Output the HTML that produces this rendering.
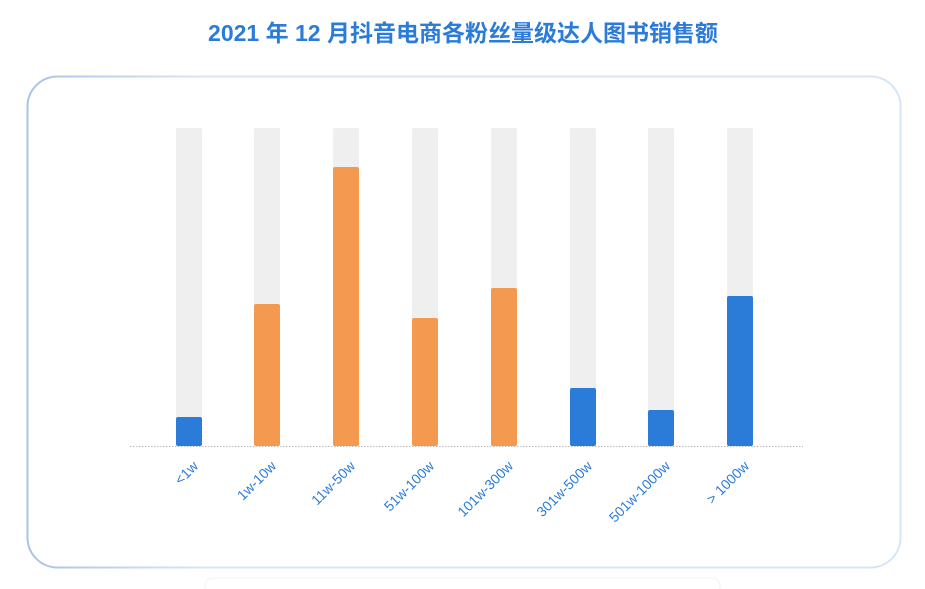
<!DOCTYPE html>
<html><head><meta charset="utf-8"><style>
html,body{margin:0;padding:0;background:#fff;width:925px;height:589px;overflow:hidden}
</style></head><body>
<svg width="925" height="589" viewBox="0 0 925 589" xmlns="http://www.w3.org/2000/svg">
<defs><linearGradient id="bd" x1="0" y1="0" x2="1" y2="0"><stop offset="0" stop-color="#a9c2e6"/><stop offset="0.2" stop-color="#d6e6f7"/><stop offset="1" stop-color="#d6e6f7"/></linearGradient></defs>
<text x="463" y="41" text-anchor="middle" font-family="Liberation Sans, Noto Sans CJK SC, sans-serif" font-size="23" font-weight="bold" fill="#2b7cd9">2021 年 12 月抖音电商各粉丝量级达人图书销售额</text>
<rect x="27.5" y="76.5" width="873" height="491" rx="30" fill="#fff" stroke="url(#bd)" stroke-width="2"/>
<rect x="205" y="578" width="515" height="20" rx="8" fill="#fff" stroke="#f3f3f3"/>
<g>
<rect x="176" y="128" width="26" height="318" rx="2" fill="#efefef"/>
<rect x="254" y="128" width="26" height="318" rx="2" fill="#efefef"/>
<rect x="333" y="128" width="26" height="318" rx="2" fill="#efefef"/>
<rect x="412" y="128" width="26" height="318" rx="2" fill="#efefef"/>
<rect x="491" y="128" width="26" height="318" rx="2" fill="#efefef"/>
<rect x="570" y="128" width="26" height="318" rx="2" fill="#efefef"/>
<rect x="648" y="128" width="26" height="318" rx="2" fill="#efefef"/>
<rect x="727" y="128" width="26" height="318" rx="2" fill="#efefef"/>
<rect x="176" y="417" width="26" height="29" rx="2" fill="#2b7cd9"/>
<rect x="254" y="304" width="26" height="142" rx="2" fill="#f39a50"/>
<rect x="333" y="167" width="26" height="279" rx="2" fill="#f39a50"/>
<rect x="412" y="318" width="26" height="128" rx="2" fill="#f39a50"/>
<rect x="491" y="288" width="26" height="158" rx="2" fill="#f39a50"/>
<rect x="570" y="388" width="26" height="58" rx="2" fill="#2b7cd9"/>
<rect x="648" y="410" width="26" height="36" rx="2" fill="#2b7cd9"/>
<rect x="727" y="296" width="26" height="150" rx="2" fill="#2b7cd9"/>
</g>
<line x1="130" y1="446.5" x2="803" y2="446.5" stroke="#bbb" stroke-dasharray="1.5,1.5"/>
<g font-family="Liberation Sans, sans-serif" font-size="14" fill="#2b7cd9" text-anchor="end">
<text transform="translate(199,467) rotate(-45)">&lt;1w</text>
<text transform="translate(277,467) rotate(-45)">1w-10w</text>
<text transform="translate(356,467) rotate(-45)">11w-50w</text>
<text transform="translate(435,467) rotate(-45)">51w-100w</text>
<text transform="translate(514,467) rotate(-45)">101w-300w</text>
<text transform="translate(593,467) rotate(-45)">301w-500w</text>
<text transform="translate(671,467) rotate(-45)">501w-1000w</text>
<text transform="translate(750,467) rotate(-45)">&gt; 1000w</text>
</g>
</svg>
</body></html>
